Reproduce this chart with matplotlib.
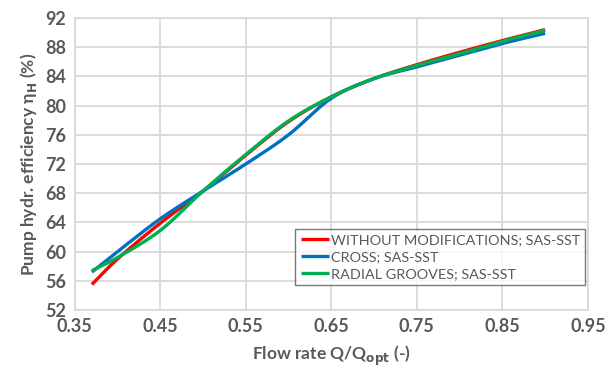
import numpy as np
import matplotlib
matplotlib.use('Agg')
import matplotlib.pyplot as plt

# data
flow = [0.37, 0.40, 0.45, 0.50, 0.55, 0.60, 0.65, 0.70, 0.75, 0.80, 0.85, 0.90]
eff_plain = [55.5, 59.0, 63.9, 68.3, 73.2, 77.8, 81.2, 83.7, 85.6, 87.3, 88.9, 90.4]
eff_cross = [57.2, 60.0, 64.5, 68.3, 72.0, 76.0, 81.0, 83.7, 85.3, 86.9, 88.5, 89.9]
eff_radial = [57.4, 59.2, 62.9, 68.3, 73.3, 77.9, 81.2, 83.7, 85.5, 87.1, 88.8, 90.3]

labels = ['WITHOUT MODIFICATIONS; SAS-SST', 'CROSS; SAS-SST', 'RADIAL GROOVES; SAS-SST']
colors = ['#FF0000', '#0070C0', '#00B050']


def smooth(x, y, n=20):
    # catmull-rom curve through the points, like excel's smoothed line
    x = np.asarray(x, float)
    y = np.asarray(y, float)
    px = np.concatenate([[2 * x[0] - x[1]], x, [2 * x[-1] - x[-2]]])
    py = np.concatenate([[2 * y[0] - y[1]], y, [2 * y[-1] - y[-2]]])
    xs, ys = [], []
    t = np.linspace(0, 1, n, endpoint=False)
    for i in range(1, len(px) - 2):
        for p, out in ((px, xs), (py, ys)):
            p0, p1, p2, p3 = p[i - 1], p[i], p[i + 1], p[i + 2]
            out.extend(0.5 * ((2 * p1) + (-p0 + p2) * t
                              + (2 * p0 - 5 * p1 + 4 * p2 - p3) * t ** 2
                              + (-p0 + 3 * p1 - 3 * p2 + p3) * t ** 3))
    xs.append(x[-1])
    ys.append(y[-1])
    return xs, ys


plt.rcParams['font.family'] = ['Lato', 'DejaVu Sans']

fig = plt.figure(figsize=(6.13, 3.74), dpi=100)
ax = fig.add_axes([0.122, 0.171, 0.837, 0.781])

for y, lab, c in zip([eff_plain, eff_cross, eff_radial], labels, colors):
    sx, sy = smooth(flow, y)
    ax.plot(sx, sy, color=c, lw=2.4, label=lab, solid_capstyle='butt')

ax.set_xlim(0.35, 0.95)
ax.set_ylim(52, 92)
ax.set_xticks(np.arange(0.35, 0.951, 0.1))
ax.set_yticks(np.arange(52, 92.1, 4))
ax.set_xticklabels(['%.2f' % v for v in np.arange(0.35, 0.951, 0.1)])
ax.grid(True, color='#D9D9D9', lw=1.3)
ax.set_axisbelow(True)
for s in ax.spines.values():
    s.set_color('#D9D9D9')
    s.set_linewidth(1.3)
ax.tick_params(length=0, labelsize=13, labelcolor='#595959', pad=6)
for t in ax.get_xticklabels() + ax.get_yticklabels():
    t.set_fontweight('bold')

ax.set_xlabel(r'Flow rate Q/Q$_\mathbf{opt}$ (-)', fontsize=12.5, fontweight='bold', color='#595959', labelpad=6)
ax.set_ylabel(r'Pump hydr. efficiency η$_\mathbf{H}$ (%)', fontsize=12.5, fontweight='bold', color='#595959', labelpad=5)

leg = ax.legend(loc='lower right', bbox_to_anchor=(0.995, 0.085), fontsize=10.4, frameon=True,
                fancybox=False, handlelength=2.0, handletextpad=0.1, labelspacing=0.35,
                borderpad=0.35, borderaxespad=0)
leg.get_frame().set_edgecolor('#595959')
leg.get_frame().set_linewidth(1.0)
for t in leg.get_texts():
    t.set_color('#595959')

fig.savefig('out.png', dpi=100)
